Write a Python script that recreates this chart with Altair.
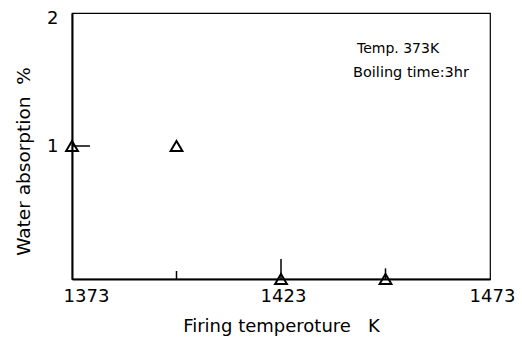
import altair as alt
import pandas as pd

temps = [1373, 1398, 1423, 1448]
absorption = [1.0, 1.0, 0.0, 0.0]

# small vertical tick/bar segments rising from the x axis
bar_x = [1398, 1423, 1448]
bar_top = [0.06, 0.15, 0.08]

x_labels = [1373, 1423, 1473]
y_labels = [1, 2]

pts = pd.DataFrame({"t": temps, "w": absorption})
bars = pd.DataFrame({"t": bar_x, "y0": [0.0] * 3, "y1": bar_top})
ytick = pd.DataFrame({"t": [1373], "t2": [1377.3], "w": [1.0]})
notes = pd.DataFrame({"txt": ["Temp. 373K", "Boiling time:3hr"]})

FONT = "DejaVu Sans"
NB = "\u00a0"

xscale = alt.Scale(domain=[1373, 1473], nice=False, zero=False)
yscale = alt.Scale(domain=[0, 2], nice=False)

xaxis = alt.Axis(
    values=x_labels, format="d", title="Firing temperoture" + NB * 3 + "K",
    ticks=False, grid=False,
    labelFontSize=18, titleFontSize=18, labelFont=FONT, titleFont=FONT,
    labelColor="black", titleColor="black", domainColor="black", domainWidth=2,
    labelPadding=8, titlePadding=12, titleFontWeight="normal", labelFlush=False,
    labelOffset={"condition": {"test": "datum.value == 1373", "value": 14}, "value": 2},
)
yaxis = alt.Axis(
    values=y_labels, format="d", title="Water absorption" + NB * 2 + "%",
    ticks=False, grid=False,
    labelFontSize=18, titleFontSize=18.5, labelFont=FONT, titleFont=FONT,
    labelColor="black", titleColor="black", domainColor="black", domainWidth=2,
    labelPadding=14, titleFontWeight="normal", labelFlush=False,
    labelOffset={"condition": {"test": "datum.value == 2", "value": 5}, "value": 0},
    titleX=-49, titleY=148, titleBaseline="middle",
)

points = alt.Chart(pts).mark_point(
    shape="triangle-up", filled=False, color="black", size=140, strokeWidth=2,
    opacity=1
).encode(
    x=alt.X("t:Q", scale=xscale, axis=xaxis),
    y=alt.Y("w:Q", scale=yscale, axis=yaxis),
)

bar_rules = alt.Chart(bars).mark_rule(color="black", strokeWidth=1.5).encode(
    x="t:Q", y="y0:Q", y2="y1:Q"
)

ytick_rule = alt.Chart(ytick).mark_rule(color="black", strokeWidth=1.5).encode(
    x="t:Q", x2="t2:Q", y="w:Q"
)

note1 = alt.Chart(notes.iloc[[0]]).mark_text(
    align="left", baseline="alphabetic", fontSize=14, font=FONT, color="black"
).encode(x=alt.value(285), y=alt.value(40), text="txt:N")
note2 = alt.Chart(notes.iloc[[1]]).mark_text(
    align="left", baseline="alphabetic", fontSize=14.5, font=FONT, color="black"
).encode(x=alt.value(281), y=alt.value(64), text="txt:N")

chart = alt.layer(bar_rules, ytick_rule, points, note1, note2).properties(
    width=418, height=266,
    autosize=alt.AutoSizeParams(type="none"),
    padding={"left": 72, "top": 13, "right": 32, "bottom": 63},
    background="white",
).configure_view(stroke="black", strokeWidth=1.2)

chart.save("out.html", embed_options={"renderer": "svg", "actions": False})
